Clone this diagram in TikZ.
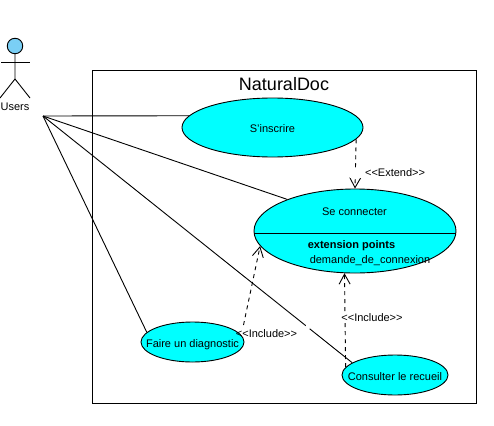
\documentclass[tikz,border=0pt]{standalone}
\usepackage{fontspec}
\setmainfont{Liberation Sans}
\usetikzlibrary{shapes.geometric,arrows.meta,calc}

\tikzset{
  usecase/.style={ellipse, draw, fill=usecyan, inner xsep=-14pt, inner ysep=0pt, text height=10.5pt, text depth=0pt, font=\fontsize{11}{13}\selectfont},
  assoc/.style={draw, line width=0.9pt},
  depend/.style={draw, line width=0.9pt, dash pattern=on 4pt off 4pt, -{Straight Barb[length=10pt,width=11pt]}},
  stereo/.style={font=\fontsize{11}{12}\selectfont, inner sep=0.5pt},
}
\definecolor{usecyan}{RGB}{0,255,255}
\definecolor{headblue}{RGB}{122,207,245}

\begin{document}
\begin{tikzpicture}[x=1pt, y=-1pt, line width=0.9pt]

    \useasboundingbox (0,0) rectangle (494,425);

    % system frame
    \node (frame) at (284,237) [draw, minimum width=384pt, minimum height=333pt, inner sep=0pt] {};
    \node (title) at (284,84) {\fontsize{18}{20}\selectfont NaturalDoc};

    % actor
    \node (head) at (15,46) [circle, draw, fill=headblue, minimum size=15.5pt, inner sep=0pt] {};
    \coordinate (hip) at (15,79);
    \coordinate (armL) at (1,62);
    \coordinate (armR) at (30,62);
    \coordinate (footL) at (0,98);
    \coordinate (footR) at (30,98);
    \coordinate (users) at (43,116);
    \draw (head) -- (hip) -- (footL);
    \draw (hip) -- (footR);
    \draw (armL) -- (armR);
    \node (userslabel) at (15,107) [font=\fontsize{11}{13}\selectfont, inner sep=0pt] {Users};

    % use cases
    \node (inscrire) at (272.5,127.5) [usecase, minimum width=181pt, minimum height=59pt] {S'inscrire};
    \node (connecter) at (355,231) [usecase, minimum width=202pt, minimum height=84pt] {};
    \node (diagnostic) at (192.5,342) [usecase, minimum width=103pt, minimum height=40pt] {Faire un diagnostic};
    \node (recueil) at (395,375) [usecase, minimum width=106pt, minimum height=40pt] {Consulter le recueil};

    \draw ([yshift=-2pt]connecter.west) -- ([yshift=-2pt]connecter.east);
    \node (connectname) at (354.5,212) [font=\fontsize{11}{13}\selectfont, inner sep=0pt] {Se connecter};
    \node (extpoints) at (351.5,246) [font=\fontsize{11}{13}\selectfont\bfseries, inner sep=0pt] {extension points};
    \node (extname) at (370,261) [font=\fontsize{11}{13}\selectfont, inner sep=0pt] {demande\_de\_connexion};

    % associations
    \draw [assoc] (users) -- (inscrire.172);
    \draw [assoc] (users) -- (connecter.155.8);
    \draw [assoc] (users) -- (diagnostic.168);
    \draw [assoc] (users) -- (recueil.164.4);
    \draw [white, line width=2pt] ($(users)!0.85!(recueil.164.4)$) -- ($(users)!0.862!(recueil.164.4)$);

    % dependencies
    \coordinate (diagtail) at (243.5,325);
    \draw [depend] (inscrire.-8.6) -- (connecter.90);
    \draw [depend] (diagtail) -- (connecter.189);
    \draw [depend] (recueil.171.2) -- (connecter.256.5);

    \node (extend) at (426,173) [stereo, fill=white, anchor=east, text width=75pt, align=right] {<{}<Extend>{}>};
    \node (incdiag) at (266.5,334) [stereo] {<{}<Include>{}>};
    \node (increc) at (372,318) [stereo, fill=white] {<{}<Include>{}>};

\end{tikzpicture}
\end{document}
